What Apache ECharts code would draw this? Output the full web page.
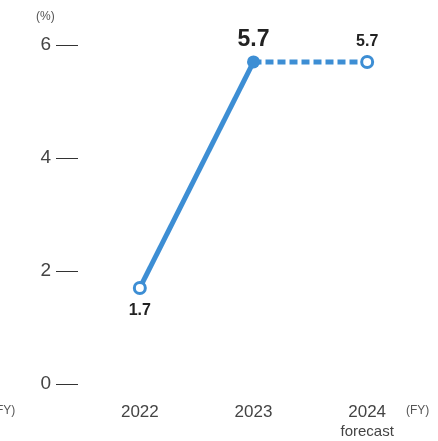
<!DOCTYPE html>
<html><head><meta charset="utf-8">
<script src="https://cdn.jsdelivr.net/npm/echarts@6/dist/echarts.min.js"></script>
<style>html,body{margin:0;padding:0;background:#fff}#c{width:438px;height:441px}</style>
</head><body><div id="c"></div>
<script>
const categories = ['2022', '2023', '2024'];
const categoryLabels = ['2022', '2023', '2024\n{f|forecast}'];
const actualValues = [1.7, 5.7, null];
const forecastValues = [null, 5.7, 5.7];
const yTicks = [0, 2, 4, 6];

const FONT = '"Liberation Sans Narrow", "Liberation Sans", Arial, sans-serif';
const BLUE = '#3d8ed4';

const chart = echarts.init(document.getElementById('c'), null, {renderer: 'canvas'});
chart.setOption({
  animation: false,
  grid: {left: 83, right: 14, top: 45, bottom: 56, containLabel: false},
  xAxis: {
    type: 'category',
    data: categories,
    boundaryGap: true,
    axisLine: {show: false},
    axisTick: {show: false},
    axisLabel: {
      margin: 19,
      color: '#444',
      fontFamily: FONT,
      fontSize: 17,
      lineHeight: 19,
      formatter: (v, i) => categoryLabels[i],
      rich: {f: {fontFamily: FONT, fontSize: 15, color: '#444', lineHeight: 19}}
    }
  },
  yAxis: {
    type: 'value',
    min: yTicks[0],
    max: yTicks[yTicks.length - 1],
    interval: 2,
    offset: 5,
    splitLine: {show: false},
    axisLine: {show: false},
    axisTick: {show: true, length: 22, lineStyle: {color: '#333', width: 1}},
    axisLabel: {margin: 27, color: '#444', fontFamily: FONT, fontSize: 19}
  },
  graphic: [
    {type: 'text', left: 36, top: 11, style: {text: '(%)', fill: '#555', font: '12px ' + FONT}},
    {type: 'text', left: 406, top: 405, style: {text: '(FY)', fill: '#555', font: '12px ' + FONT}},
    {type: 'text', left: -8, top: 405, style: {text: '(FY)', fill: '#555', font: '12px ' + FONT}}
  ],
  series: [
    {
      type: 'line',
      data: [
        {value: actualValues[0], symbol: 'circle', symbolSize: 11,
         itemStyle: {color: '#fff', borderColor: BLUE, borderWidth: 3},
         label: {show: true, position: 'bottom', distance: 8, fontSize: 16, fontWeight: 'bold', color: '#222', fontFamily: FONT}},
        {value: actualValues[1], symbol: 'circle', symbolSize: 13,
         itemStyle: {color: BLUE, borderColor: BLUE, borderWidth: 0},
         label: {show: true, position: 'top', distance: 4, fontSize: 23, fontWeight: 'bold', color: '#222', fontFamily: FONT}},
        actualValues[2]
      ],
      lineStyle: {color: BLUE, width: 5},
      itemStyle: {color: BLUE},
      z: 3
    },
    {
      type: 'line',
      data: [
        {value: forecastValues[0]},
        {value: forecastValues[1], symbol: 'none'},
        {value: forecastValues[2], symbol: 'circle', symbolSize: 11,
         itemStyle: {color: '#fff', borderColor: BLUE, borderWidth: 3},
         label: {show: true, position: 'top', distance: 5, fontSize: 16, fontWeight: 'bold', color: '#222', fontFamily: FONT}}
      ],
      showSymbol: true,
      symbol: 'none',
      lineStyle: {color: BLUE, width: 5, type: [8, 4]},
      itemStyle: {color: BLUE},
      z: 2
    }
  ]
});
</script>
</body></html>
